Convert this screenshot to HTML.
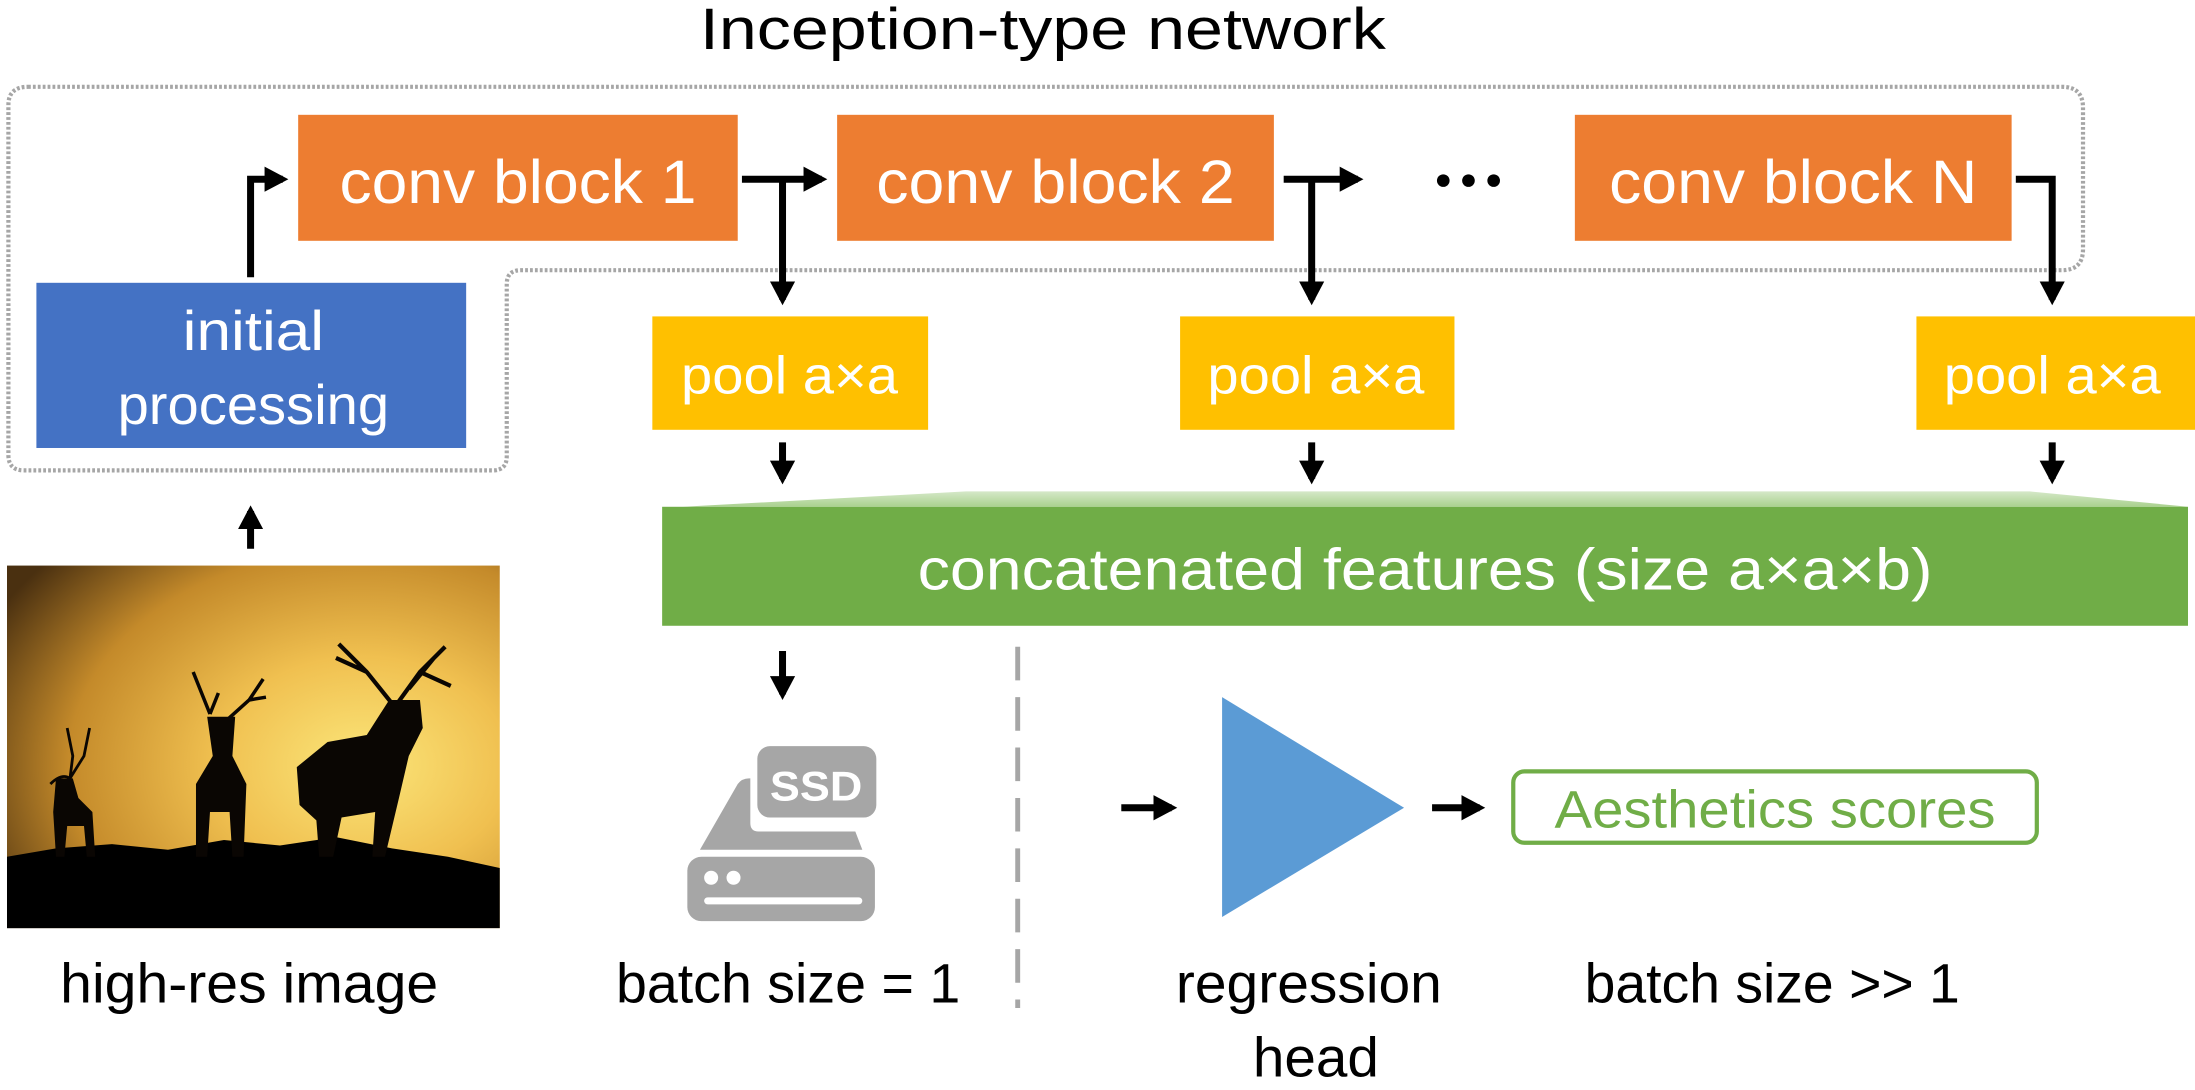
<!DOCTYPE html>
<html><head><meta charset="utf-8"><style>
html,body{margin:0;padding:0;background:#fff;}
svg{display:block;}
text{font-family:"Liberation Sans",sans-serif;}
</style></head><body>
<svg width="2195" height="1090" viewBox="0 0 1568 778.6" xmlns="http://www.w3.org/2000/svg">
<defs>
<marker id="ah" markerWidth="5" markerHeight="5" refX="2.6" refY="2" orient="auto" markerUnits="strokeWidth">
<path d="M0,0.2 L3.4,2 L0,3.8 z" fill="#000"/></marker>
<radialGradient id="sky" cx="0.72" cy="0.55" r="0.85">
<stop offset="0" stop-color="#fbe67a"/><stop offset="0.35" stop-color="#f0c050"/><stop offset="0.7" stop-color="#c48a2a"/><stop offset="1" stop-color="#4a3010"/>
</radialGradient>
<linearGradient id="tg" x1="0" y1="0" x2="0" y2="1"><stop offset="0" stop-color="#d5e8c8"/><stop offset="1" stop-color="#a9d18e"/></linearGradient>
</defs>

<text x="745" y="35" font-size="42" text-anchor="middle" textLength="490" lengthAdjust="spacingAndGlyphs">Inception-type network</text>

<path d="M20,62 H1473 Q1488,62 1488,77 V178 Q1488,193 1473,193 H372 Q362,193 362,203 V326 Q362,336 352,336 H17 Q6,336 6,325 V75 Q6,62 20,62 Z" fill="none" stroke="#a6a6a6" stroke-width="3" stroke-dasharray="2,1.5"/>

<rect x="213" y="82" width="314" height="90" fill="#ed7d31"/>
<rect x="598" y="82" width="312" height="90" fill="#ed7d31"/>
<rect x="1125" y="82" width="312" height="90" fill="#ed7d31"/>
<text x="370" y="145" font-size="44" fill="#fff" text-anchor="middle" textLength="255" lengthAdjust="spacingAndGlyphs">conv block 1</text>
<text x="754" y="145" font-size="44" fill="#fff" text-anchor="middle" textLength="256" lengthAdjust="spacingAndGlyphs">conv block 2</text>
<text x="1281" y="145" font-size="44" fill="#fff" text-anchor="middle" textLength="263" lengthAdjust="spacingAndGlyphs">conv block N</text>
<g fill="#000"><circle cx="1031" cy="129" r="4.5"/><circle cx="1049" cy="129" r="4.5"/><circle cx="1067" cy="129" r="4.5"/></g>

<rect x="26" y="202" width="307" height="118" fill="#4472c4"/>
<text x="181" y="250" font-size="40" fill="#fff" text-anchor="middle" textLength="101" lengthAdjust="spacingAndGlyphs">initial</text>
<text x="181" y="303" font-size="40" fill="#fff" text-anchor="middle" textLength="194" lengthAdjust="spacingAndGlyphs">processing</text>

<rect x="466" y="226" width="197" height="81" fill="#ffc000"/>
<rect x="843" y="226" width="196" height="81" fill="#ffc000"/>
<rect x="1369" y="226" width="199" height="81" fill="#ffc000"/>
<text x="564" y="281" font-size="38" fill="#fff" text-anchor="middle" textLength="155" lengthAdjust="spacingAndGlyphs">pool a×a</text>
<text x="940" y="281" font-size="38" fill="#fff" text-anchor="middle" textLength="155" lengthAdjust="spacingAndGlyphs">pool a×a</text>
<text x="1466" y="281" font-size="38" fill="#fff" text-anchor="middle" textLength="155" lengthAdjust="spacingAndGlyphs">pool a×a</text>

<path d="M488,362 L690,351 L1450,351 L1563,362 Z" fill="url(#tg)"/>
<rect x="473" y="362" width="1090" height="85" fill="#70ad47"/>
<text x="1018" y="421" font-size="42" fill="#fff" text-anchor="middle" textLength="725" lengthAdjust="spacingAndGlyphs">concatenated features (size a×a×b)</text>

<g stroke="#000" stroke-width="5" fill="none">
<path d="M179,198 V128 H202" marker-end="url(#ah)"/>
<path d="M530,128 H587" marker-end="url(#ah)"/>
<path d="M559,128 V214" marker-end="url(#ah)"/>
<path d="M917,128 H970" marker-end="url(#ah)"/>
<path d="M937,128 V214" marker-end="url(#ah)"/>
<path d="M1440,128 H1466 V214" marker-end="url(#ah)"/>
<path d="M559,316 V342" marker-end="url(#ah)"/>
<path d="M937,316 V342" marker-end="url(#ah)"/>
<path d="M1466,316 V342" marker-end="url(#ah)"/>
<path d="M179,392 V365" marker-end="url(#ah)"/>
<path d="M559,465 V496" marker-end="url(#ah)"/>
<path d="M801,577 H837" marker-end="url(#ah)"/>
<path d="M1023,577 H1057" marker-end="url(#ah)"/>
</g>

<line x1="727" y1="462" x2="727" y2="720" stroke="#a6a6a6" stroke-width="3.5" stroke-dasharray="24,12"/>

<rect x="5" y="404" width="352" height="259" fill="url(#sky)"/>
<path d="M5,612 L40,606 L80,603 L120,607 L160,600 L200,604 L240,598 L280,606 L320,612 L357,620 V663 H5 Z" fill="#000"/>
<g fill="#0a0603">
<path d="M36,560 Q44,552 50,556 L52,540 L48,520 M50,556 L60,540 L64,520" stroke="#0a0603" stroke-width="2" fill="none"/>
<path d="M40,556 L52,556 L56,570 L66,580 L68,612 L62,612 L60,590 L48,590 L46,612 L40,612 L38,580 Z"/>
<path d="M150,510 L138,480 M150,510 L156,495 M158,518 L178,500 L188,485 M178,500 L190,498" stroke="#0a0603" stroke-width="2.5" fill="none"/>
<path d="M148,512 L168,512 L166,540 L176,560 L174,612 L166,612 L164,580 L150,580 L148,612 L140,612 L140,560 L152,540 Z"/>
<path d="M282,505 L262,480 L242,460 M262,480 L240,470 M282,505 L300,480 L318,462 M300,480 L322,490 M292,492 L310,470" stroke="#0a0603" stroke-width="3" fill="none"/>
<path d="M278,500 L300,500 L302,520 L292,540 L285,570 L275,612 L266,612 L268,580 L244,584 L238,612 L228,612 L226,586 L214,575 L212,548 L234,530 L262,525 Z"/>
</g>

<g fill="#a6a6a6">
<rect x="541" y="533" width="85" height="51" rx="9"/>
<path d="M500,607 L527,560 Q530,556 535,556 L536,556 L536,588 Q536,594 542,594 L611,594 L616,607 Z"/>
<rect x="491" y="612" width="134" height="46" rx="10"/>
</g>
<text x="583" y="572" font-size="30" font-weight="bold" fill="#fff" text-anchor="middle" textLength="66" lengthAdjust="spacingAndGlyphs">SSD</text>
<circle cx="508" cy="627" r="5" fill="#fff"/><circle cx="524" cy="627" r="5" fill="#fff"/>
<rect x="503" y="641" width="113" height="5" rx="2.5" fill="#fff"/>

<polygon points="873,498 1003,577 873,655" fill="#5b9bd5"/>

<rect x="1081" y="551" width="374" height="51" rx="8" fill="#fff" stroke="#70ad47" stroke-width="3"/>
<text x="1268" y="591" font-size="38" fill="#70ad47" text-anchor="middle" textLength="315" lengthAdjust="spacingAndGlyphs">Aesthetics scores</text>

<text x="178" y="716" font-size="40" text-anchor="middle" textLength="270" lengthAdjust="spacingAndGlyphs">high-res image</text>
<text x="563" y="716" font-size="40" text-anchor="middle" textLength="246" lengthAdjust="spacingAndGlyphs">batch size = 1</text>
<text x="935" y="716" font-size="40" text-anchor="middle" textLength="190" lengthAdjust="spacingAndGlyphs">regression</text>
<text x="940" y="769" font-size="40" text-anchor="middle" textLength="90" lengthAdjust="spacingAndGlyphs">head</text>
<text x="1266" y="716" font-size="40" text-anchor="middle" textLength="268" lengthAdjust="spacingAndGlyphs">batch size &gt;&gt; 1</text>
</svg>
</body></html>
